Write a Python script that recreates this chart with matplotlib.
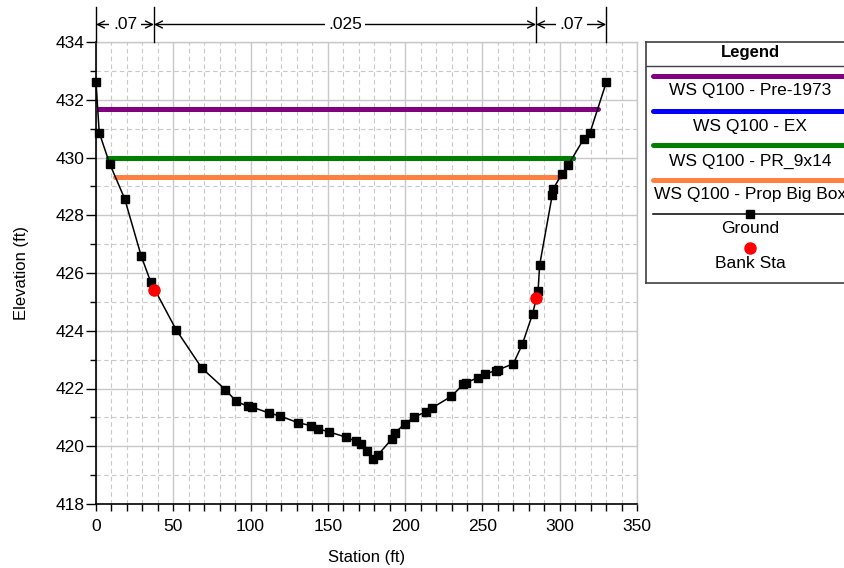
import matplotlib
matplotlib.use("Agg")
import matplotlib.pyplot as plt
from matplotlib.ticker import MultipleLocator
from matplotlib.transforms import blended_transform_factory

plt.rcParams['font.family'] = ['Liberation Sans', 'DejaVu Sans']

# Ground profile
stations = [0, 2.1, 8.8, 18.5, 29.3, 35.4, 51.8, 68.4, 83.7, 90.8, 98.5, 100.7,
            112.1, 118.8, 130.5, 139.3, 143.4, 150.5, 161.5, 168.4, 171.2, 175.3,
            179.4, 182.6, 191.5, 193.6, 199.6, 206.0, 213.5, 217.2, 229.9, 237.6,
            239.4, 247.3, 251.7, 258.5, 260.0, 270.0, 275.8, 282.5, 286.0, 287.0,
            295.2, 295.9, 301.5, 305.6, 315.5, 319.6, 330.1]
elevations = [432.6, 430.86, 429.79, 428.58, 426.58, 425.69, 424.04, 422.71, 421.96,
              421.55, 421.38, 421.36, 421.15, 421.05, 420.82, 420.71, 420.61, 420.5,
              420.32, 420.17, 420.07, 419.85, 419.57, 419.71, 420.26, 420.46, 420.78,
              421.01, 421.2, 421.32, 421.73, 422.14, 422.2, 422.38, 422.5, 422.62,
              422.64, 422.86, 423.53, 424.59, 425.38, 426.27, 428.71, 428.92, 429.44,
              429.75, 430.64, 430.86, 432.6]

# Bank stations
bank_sta = [37.5, 284.7]
bank_elev = [425.42, 425.15]

# Water surfaces
ws_names = ["WS Q100 - Pre-1973", "WS Q100 - EX", "WS Q100 - PR_9x14", "WS Q100 - Prop Big Box"]
ws_elev = [431.67, 430.0, 430.0, 429.31]
ws_left = [1.0, 7.5, 7.5, 12.6]
ws_right = [324.5, 308.3, 308.3, 300.1]
ws_colors = ["#800080", "#0000ff", "#008000", "#ff8040"]

# Manning's n regions
n_bounds = [0, 37.5, 284.7, 330.1]
n_values = [".07", ".025", ".07"]

W, H = 845, 568
fig = plt.figure(figsize=(W / 100, H / 100), dpi=100)
ax = fig.add_axes([96 / W, (H - 504) / H, 541 / W, 462 / H])

ax.set_xlim(0, 350)
ax.set_ylim(418, 434)
ax.xaxis.set_major_locator(MultipleLocator(50))
ax.xaxis.set_minor_locator(MultipleLocator(10))
ax.yaxis.set_major_locator(MultipleLocator(2))
ax.yaxis.set_minor_locator(MultipleLocator(1))

grid_c = "#c8c8c8"
ax.grid(which="major", color=grid_c, lw=1.0, ls="-", zorder=0)
ax.grid(which="minor", color=grid_c, lw=0.8, ls=(0, (4, 3)), zorder=0)
ax.set_axisbelow(True)

for s in ("top", "right"):
    ax.spines[s].set_color(grid_c)
    ax.spines[s].set_linewidth(1.0)
for s in ("left", "bottom"):
    ax.spines[s].set_color("black")
    ax.spines[s].set_linewidth(1.2)

ax.tick_params(axis="both", which="both", direction="out", colors="black",
               labelsize=12.5, width=1.0)
ax.tick_params(axis="y", which="major", length=7, pad=1.5)
ax.tick_params(axis="y", which="minor", length=4)
ax.tick_params(axis="x", which="major", length=5, pad=6)
ax.tick_params(axis="x", which="minor", length=5)

ax.set_xlabel("Station (ft)", fontsize=12, labelpad=11)
ax.set_ylabel("Elevation (ft)", fontsize=12, labelpad=19)

# Water surface lines
for name, e, l, r, c in zip(ws_names, ws_elev, ws_left, ws_right, ws_colors):
    ax.plot([l, r], [e, e], color=c, lw=3.6, solid_capstyle="round", zorder=3, label=name)

# Ground and bank stations
ax.plot(stations, elevations, color="black", lw=1.1, marker="s", ms=5.2,
        zorder=4, label="Ground", clip_on=False)
ax.plot(bank_sta, bank_elev, ls="none", marker="o", color="#ff0000", ms=8,
        zorder=5, label="Bank Sta", clip_on=False)

# Manning's n dimension marks above the plot
trans = blended_transform_factory(ax.transData, ax.transAxes)
y_arrow = (504 - 24.5) / 462
y_top = (504 - 7) / 462
for xb in n_bounds:
    ax.plot([xb, xb], [1.0, y_top], color="black", lw=1.0, transform=trans,
            clip_on=False, zorder=6)
for x0, x1, nv in zip(n_bounds[:-1], n_bounds[1:], n_values):
    xm = 0.5 * (x0 + x1)
    for xe in (x0, x1):
        ax.annotate("", xy=(xe, y_arrow), xycoords=trans, xytext=(xm, y_arrow),
                    textcoords=trans,
                    arrowprops=dict(arrowstyle="->,head_length=0.5,head_width=0.25",
                                    lw=1.0, color="black", shrinkA=0, shrinkB=0,
                                    mutation_scale=10))
    ax.text(xm, y_arrow, nv, transform=trans, ha="center", va="center",
            fontsize=12.5, zorder=7,
            bbox=dict(facecolor="white", edgecolor="none", pad=2.5))

# Legend panel
lg = fig.add_axes([646 / W, (H - 283) / H, (870 - 646) / W, (283 - 42) / H])
lg.set_xlim(646, 870)
lg.set_ylim(283, 42)
lg.set_xticks([])
lg.set_yticks([])
for s in lg.spines.values():
    s.set_color("#404040")
    s.set_linewidth(1.2)
cx = 750
lg.text(cx, 53, "Legend", ha="center", va="center", fontsize=12, fontweight="bold")
lg.plot([646, 870], [66, 66], color="#404040", lw=1.0)
line_y = [76, 111, 145, 180]
text_y = [91, 127, 161, 195]
for name, c, ly, ty in zip(ws_names, ws_colors, line_y, text_y):
    lg.plot([653, 870], [ly, ly], color=c, lw=3.6, solid_capstyle="round")
    lg.text(cx, ty, name, ha="center", va="center", fontsize=12.5)
lg.plot([653, 870], [214, 214], color="black", lw=1.1)
lg.plot([cx], [214], marker="s", color="black", ms=5.2)
lg.text(cx, 229, "Ground", ha="center", va="center", fontsize=12.5)
lg.plot([cx], [248], marker="o", color="#ff0000", ms=8)
lg.text(cx, 264, "Bank Sta", ha="center", va="center", fontsize=12.5)

fig.savefig("out.png", dpi=100)
